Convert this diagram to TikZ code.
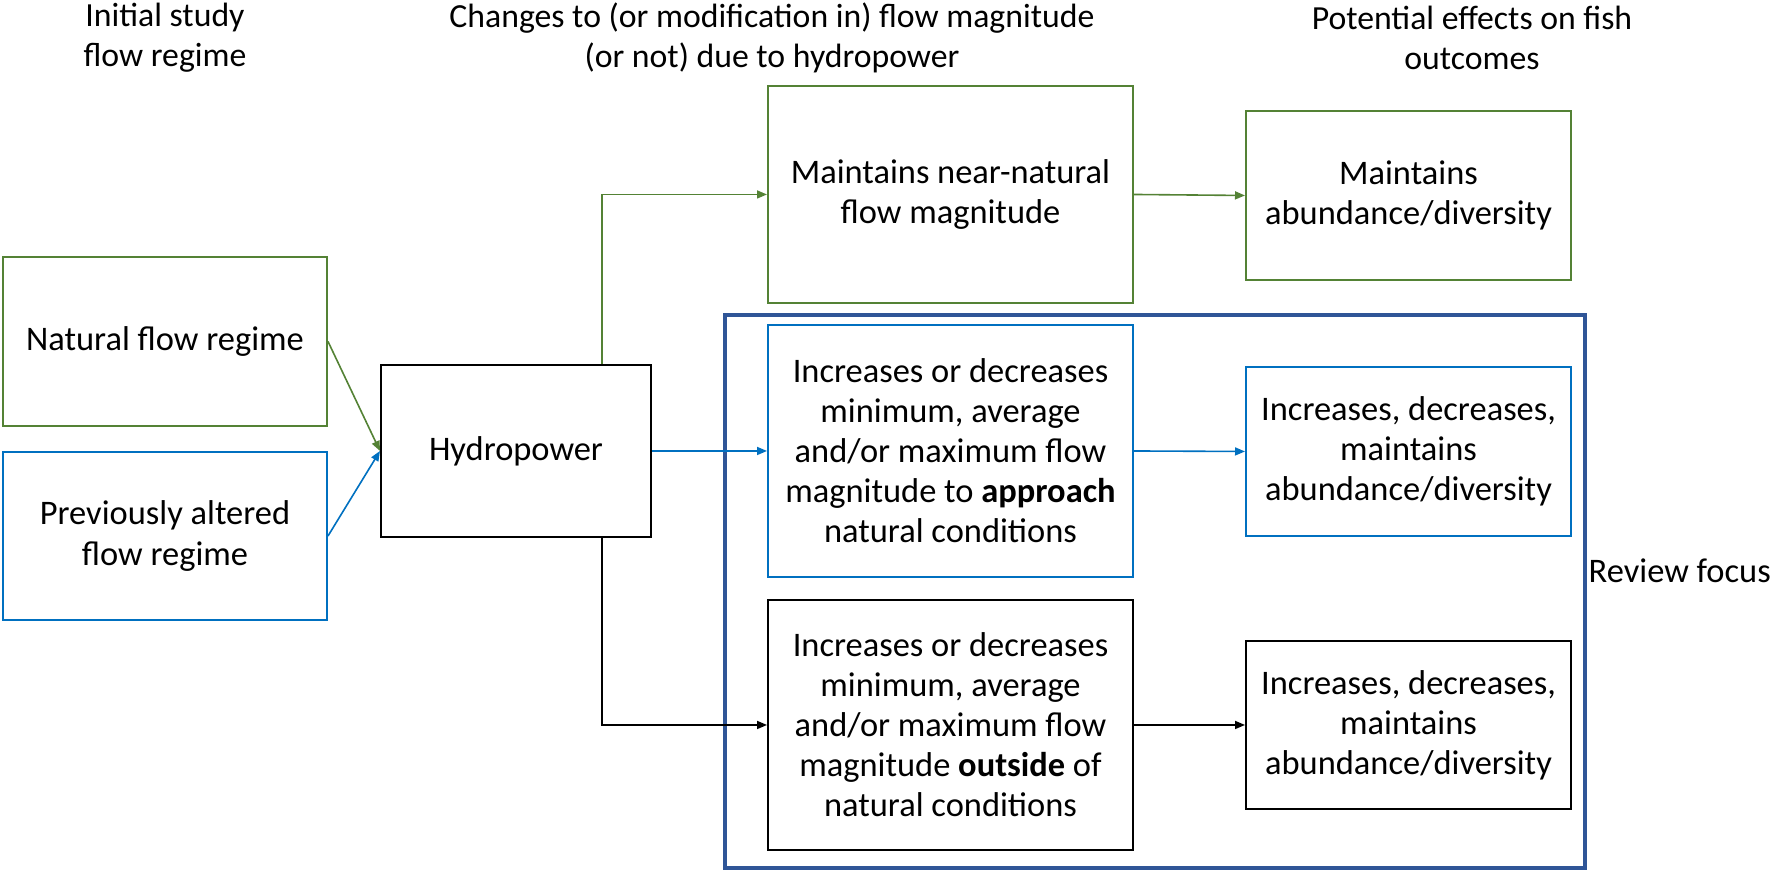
\documentclass[tikz,border=0pt]{standalone}
\usepackage{fontspec}
\setmainfont{Carlito}
\usetikzlibrary{arrows.meta}
\definecolor{flowgreen}{HTML}{548235}
\definecolor{flowblue}{HTML}{0070C0}
\definecolor{focusblue}{HTML}{2F5597}
\tikzset{
  box/.style={draw, line width=0.02cm, align=center, inner sep=0pt, font=\fontsize{9.8}{11.4}\selectfont},
  head/.style={align=center, font=\fontsize{9.6}{11.4}\selectfont},
  link/.style={line width=0.016cm, -{Triangle[length=0.1cm,width=0.08cm]}},
}
\begin{document}
\begin{tikzpicture}
\useasboundingbox (0,0) rectangle (17.72,8.73);

% Marking column headers
\node (headstart) at (1.65,8.35) [head] {Initial study\\flow regime};
\node (headchange) at (7.72,8.35) [head] {Changes to (or modification in) flow magnitude\\(or not) due to hydropower};
\node (headfish) at (14.72,8.35) [head] {Potential effects on fish\\outcomes};

% Drawing review focus frame
\draw [line width=0.04cm, focusblue] (7.25,0.05) rectangle (15.85,5.58);
\node (focus) at (15.88,3.02) [anchor=west, inner sep=0pt, font=\fontsize{9.8}{11.4}\selectfont] {Review focus};

% Drawing start boxes
\node (natural) at (1.65,5.315) [box, flowgreen, text=black, minimum width=3.24cm, minimum height=1.69cm] {Natural flow regime};
\node (altered) at (1.65,3.37) [box, flowblue, text=black, minimum width=3.24cm, minimum height=1.68cm] {Previously altered\\flow regime};
\node (hydro) at (5.16,4.22) [box, minimum width=2.70cm, minimum height=1.72cm] {Hydropower};

% Drawing change boxes
\node (keep) at (9.505,6.785) [box, flowgreen, text=black, minimum width=3.65cm, minimum height=2.17cm] {Maintains near-natural\\flow magnitude};
\node (approach) at (9.505,4.22) [box, flowblue, text=black, minimum width=3.65cm, minimum height=2.52cm] {Increases or decreases\\minimum, average\\and/or maximum flow\\magnitude to \textbf{approach}\\natural conditions};
\node (outside) at (9.505,1.48) [box, minimum width=3.65cm, minimum height=2.50cm] {Increases or decreases\\minimum, average\\and/or maximum flow\\magnitude \textbf{outside} of\\natural conditions};

% Drawing fish outcome boxes
\node (keepfish) at (14.085,6.775) [box, flowgreen, text=black, minimum width=3.25cm, minimum height=1.69cm] {Maintains\\abundance/diversity};
\node (approachfish) at (14.085,4.215) [box, flowblue, text=black, minimum width=3.25cm, minimum height=1.69cm] {Increases, decreases,\\maintains\\abundance/diversity};
\node (outsidefish) at (14.085,1.48) [box, minimum width=3.25cm, minimum height=1.68cm] {Increases, decreases,\\maintains\\abundance/diversity};

% Drawing links into hydropower
\draw [link, flowgreen] (natural.east) -- (hydro.west);
\draw [link, flowblue] (altered.east) -- (hydro.west);

% Drawing links out of hydropower
\draw [link, flowgreen] ([xshift=0.86cm]hydro.north) |- (keep.west);
\draw [link, flowblue] (hydro.east) -- (approach.west);
\draw [link] ([xshift=0.86cm]hydro.south) |- (outside.west);

% Drawing links to fish outcomes
\draw [link, flowgreen] (keep.east) -- (keepfish.west);
\draw [link, flowblue] (approach.east) -- (approachfish.west);
\draw [link] (outside.east) -- (outsidefish.west);
\end{tikzpicture}
\end{document}
